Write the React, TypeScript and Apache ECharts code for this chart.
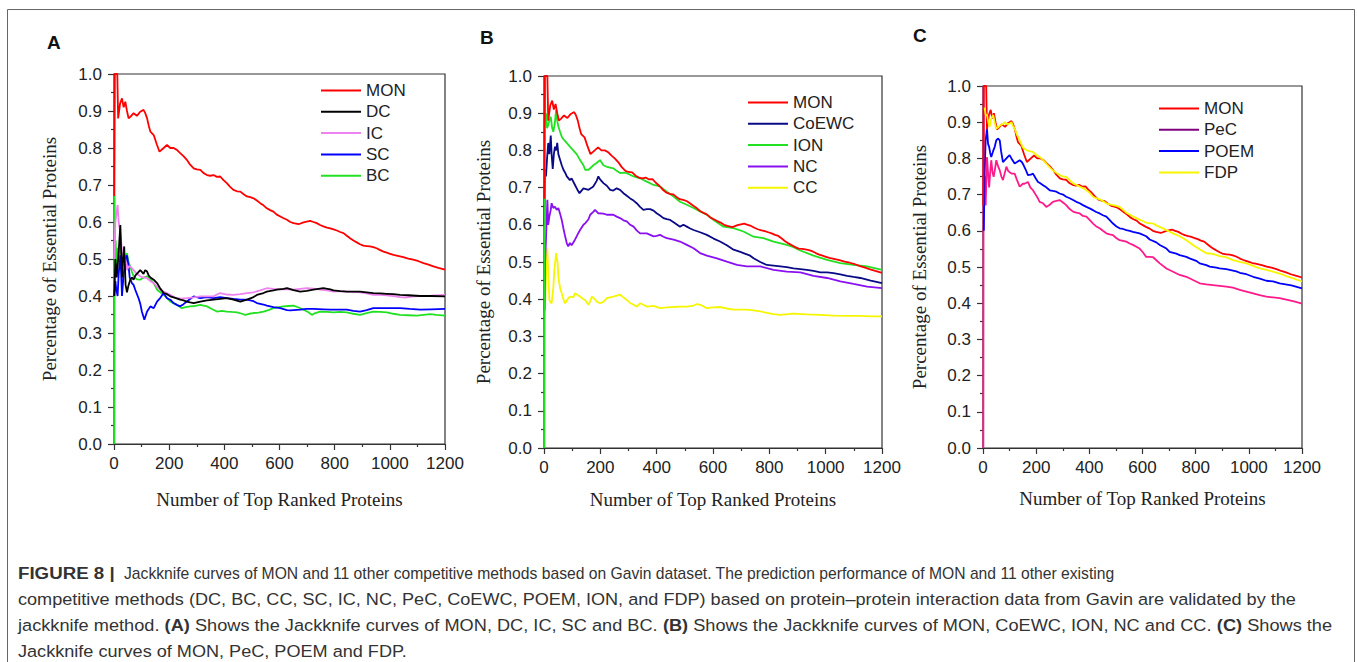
import React, { useEffect, useRef } from "react";
import * as echarts from "echarts";

type P = [number, number];

// ---------- Panel A / B / C shared: MON ----------
const MON: P[] = [[1,0.67],[3,1.0],[12,1.0],[15,0.88],[22,0.92],[29,0.934],[35,0.91],[41,0.925],[47,0.9],[53,0.88],[60,0.885],[71,0.894],[83,0.887],[95,0.898],[107,0.903],[113,0.895],[120,0.88],[126,0.86],[132,0.844],[144,0.835],[155,0.81],[165,0.79],[180,0.8],[192,0.808],[204,0.8],[216,0.8],[228,0.795],[240,0.786],[252,0.778],[264,0.768],[276,0.755],[289,0.745],[300,0.742],[313,0.741],[325,0.732],[337,0.727],[349,0.725],[361,0.727],[373,0.722],[385,0.723],[397,0.713],[409,0.705],[421,0.695],[433,0.687],[446,0.683],[458,0.682],[470,0.675],[482,0.669],[494,0.667],[506,0.664],[518,0.658],[530,0.651],[542,0.645],[554,0.637],[566,0.632],[578,0.628],[590,0.62],[603,0.615],[615,0.61],[627,0.606],[639,0.6],[651,0.597],[669,0.594],[687,0.599],[699,0.601],[711,0.603],[723,0.6],[735,0.597],[747,0.592],[759,0.588],[772,0.585],[784,0.583],[796,0.58],[808,0.577],[820,0.573],[832,0.57],[844,0.563],[856,0.556],[868,0.55],[880,0.545],[892,0.54],[904,0.536],[916,0.535],[928,0.534],[940,0.532],[952,0.529],[965,0.524],[977,0.52],[989,0.517],[1001,0.514],[1013,0.511],[1025,0.509],[1037,0.507],[1049,0.505],[1067,0.501],[1085,0.498],[1104,0.494],[1122,0.489],[1140,0.485],[1158,0.48],[1176,0.476],[1200,0.471]];

// ---------- Panel A ----------
const DC: P[] = [[1,0.4],[5,0.5],[10,0.45],[17,0.52],[23,0.592],[29,0.45],[33,0.5],[37,0.534],[42,0.43],[47,0.41],[53,0.43],[59,0.444],[65,0.45],[71,0.444],[77,0.455],[83,0.46],[95,0.47],[101,0.465],[107,0.46],[113,0.47],[120,0.466],[126,0.455],[132,0.45],[144,0.444],[156,0.435],[168,0.42],[180,0.408],[192,0.405],[204,0.399],[222,0.395],[240,0.39],[252,0.388],[264,0.385],[276,0.383],[289,0.381],[313,0.385],[337,0.388],[361,0.39],[385,0.392],[409,0.394],[433,0.39],[458,0.385],[482,0.39],[506,0.397],[518,0.403],[542,0.408],[554,0.412],[578,0.415],[590,0.417],[615,0.419],[627,0.421],[651,0.416],[675,0.412],[699,0.414],[723,0.417],[741,0.419],[759,0.421],[784,0.418],[796,0.415],[820,0.413],[844,0.412],[868,0.412],[892,0.412],[916,0.41],[940,0.408],[965,0.407],[989,0.406],[1013,0.405],[1037,0.403],[1067,0.402],[1110,0.4],[1150,0.4],[1200,0.399]];
const IC: P[] = [[1,0.5],[5,0.6],[13,0.646],[17,0.6],[23,0.57],[29,0.52],[35,0.48],[41,0.5],[47,0.47],[53,0.48],[59,0.48],[71,0.47],[83,0.46],[95,0.453],[107,0.45],[120,0.448],[132,0.44],[144,0.435],[156,0.425],[168,0.417],[180,0.412],[192,0.408],[204,0.403],[216,0.398],[228,0.394],[246,0.393],[264,0.394],[289,0.396],[313,0.399],[337,0.399],[361,0.399],[373,0.404],[385,0.408],[409,0.404],[433,0.403],[458,0.405],[482,0.408],[506,0.41],[530,0.415],[554,0.421],[578,0.419],[603,0.418],[627,0.418],[651,0.417],[675,0.419],[699,0.421],[723,0.42],[747,0.417],[772,0.415],[796,0.412],[820,0.413],[844,0.412],[868,0.411],[892,0.41],[916,0.407],[940,0.403],[965,0.403],[989,0.402],[1013,0.4],[1037,0.397],[1060,0.396],[1085,0.399],[1110,0.4],[1150,0.401],[1200,0.403]];
const SC: P[] = [[1,0.4],[3,0.4],[5,0.44],[8,0.42],[13,0.4],[17,0.46],[23,0.51],[26,0.46],[29,0.4],[35,0.46],[41,0.49],[47,0.51],[53,0.48],[57,0.45],[65,0.435],[71,0.43],[77,0.417],[89,0.394],[95,0.38],[101,0.358],[110,0.336],[120,0.358],[132,0.372],[144,0.367],[156,0.385],[168,0.395],[180,0.408],[192,0.394],[204,0.39],[216,0.381],[228,0.376],[240,0.372],[252,0.378],[264,0.385],[276,0.392],[289,0.399],[313,0.394],[337,0.397],[361,0.394],[385,0.397],[409,0.394],[433,0.392],[458,0.39],[482,0.39],[506,0.386],[518,0.381],[542,0.377],[554,0.374],[578,0.37],[603,0.367],[627,0.362],[639,0.361],[675,0.363],[699,0.365],[723,0.365],[759,0.364],[784,0.363],[820,0.363],[844,0.363],[868,0.36],[892,0.358],[916,0.362],[940,0.367],[989,0.367],[1037,0.367],[1073,0.365],[1110,0.363],[1150,0.364],[1200,0.365]];
const BC: P[] = [[1,0],[2,0.67],[4,0.45],[6,0.55],[9,0.48],[13,0.53],[17,0.5],[23,0.534],[29,0.5],[35,0.52],[41,0.5],[47,0.516],[53,0.49],[59,0.48],[65,0.465],[71,0.453],[83,0.445],[95,0.444],[107,0.45],[120,0.453],[132,0.445],[144,0.435],[156,0.417],[168,0.41],[180,0.403],[192,0.395],[204,0.385],[216,0.38],[228,0.376],[246,0.367],[260,0.37],[276,0.372],[295,0.373],[313,0.376],[337,0.372],[355,0.365],[373,0.358],[391,0.36],[409,0.358],[427,0.357],[446,0.356],[464,0.352],[476,0.349],[490,0.352],[506,0.354],[524,0.355],[542,0.358],[560,0.362],[578,0.367],[597,0.37],[615,0.372],[633,0.373],[651,0.374],[669,0.369],[687,0.363],[705,0.356],[717,0.349],[730,0.354],[747,0.358],[772,0.357],[796,0.356],[820,0.357],[844,0.356],[868,0.352],[892,0.349],[916,0.354],[940,0.358],[965,0.357],[989,0.356],[1013,0.352],[1037,0.349],[1067,0.348],[1098,0.347],[1122,0.349],[1146,0.351],[1170,0.349],[1200,0.347]];

// ---------- Panel B ----------
const COEWC: P[] = [[1,0.6],[4,0.75],[7,0.73],[11,0.78],[15,0.82],[19,0.79],[24,0.84],[27,0.79],[31,0.75],[35,0.79],[39,0.81],[43,0.8],[47,0.82],[51,0.79],[57,0.775],[63,0.76],[69,0.748],[75,0.74],[81,0.73],[92,0.72],[98,0.725],[110,0.707],[118,0.695],[126,0.685],[140,0.698],[158,0.694],[170,0.7],[175,0.703],[187,0.718],[193,0.73],[199,0.722],[211,0.712],[223,0.705],[235,0.694],[246,0.692],[258,0.698],[270,0.694],[282,0.685],[294,0.678],[306,0.671],[318,0.665],[329,0.658],[341,0.648],[353,0.64],[365,0.642],[377,0.642],[389,0.638],[400,0.631],[412,0.625],[424,0.618],[436,0.615],[448,0.613],[460,0.607],[483,0.595],[495,0.6],[507,0.595],[519,0.59],[531,0.586],[554,0.58],[578,0.573],[602,0.563],[625,0.555],[649,0.545],[673,0.533],[697,0.527],[708,0.524],[732,0.517],[744,0.51],[768,0.5],[791,0.492],[815,0.49],[839,0.488],[862,0.486],[886,0.483],[910,0.481],[933,0.479],[957,0.476],[981,0.472],[1005,0.472],[1028,0.47],[1052,0.467],[1076,0.463],[1099,0.46],[1123,0.457],[1160,0.45],[1200,0.443]];
const ION: P[] = [[1,0],[2,0.5],[3,1.0],[5,0.88],[7,0.9],[11,0.86],[15,0.868],[19,0.88],[24,0.89],[29,0.86],[33,0.85],[38,0.87],[43,0.909],[47,0.88],[51,0.864],[57,0.85],[63,0.837],[69,0.83],[75,0.825],[81,0.82],[92,0.81],[104,0.8],[116,0.79],[128,0.774],[140,0.76],[146,0.748],[158,0.748],[164,0.752],[175,0.76],[187,0.766],[199,0.774],[211,0.76],[223,0.756],[235,0.754],[246,0.752],[258,0.745],[270,0.739],[282,0.74],[294,0.739],[318,0.73],[341,0.725],[365,0.716],[389,0.707],[412,0.703],[436,0.689],[460,0.676],[483,0.662],[507,0.654],[531,0.645],[554,0.636],[578,0.627],[602,0.613],[637,0.595],[673,0.591],[708,0.582],[744,0.568],[779,0.564],[815,0.555],[862,0.546],[886,0.54],[910,0.531],[957,0.517],[1005,0.506],[1052,0.497],[1099,0.492],[1147,0.488],[1200,0.479]];
const NC: P[] = [[2,0.37],[4,0.5],[7,0.56],[12,0.667],[15,0.6],[19,0.622],[24,0.64],[27,0.658],[33,0.645],[39,0.649],[45,0.64],[51,0.645],[57,0.63],[63,0.613],[69,0.59],[75,0.569],[81,0.55],[86,0.542],[92,0.551],[98,0.545],[110,0.56],[120,0.575],[128,0.586],[140,0.6],[146,0.604],[158,0.615],[164,0.627],[175,0.635],[181,0.64],[193,0.631],[211,0.63],[223,0.627],[246,0.627],[258,0.622],[270,0.618],[282,0.612],[294,0.609],[306,0.6],[318,0.595],[329,0.585],[341,0.577],[365,0.577],[389,0.569],[400,0.57],[412,0.573],[424,0.568],[436,0.564],[460,0.56],[483,0.555],[507,0.546],[531,0.537],[554,0.524],[578,0.517],[614,0.51],[649,0.501],[685,0.492],[720,0.488],[768,0.488],[815,0.479],[862,0.474],[910,0.472],[957,0.463],[1005,0.457],[1052,0.448],[1099,0.441],[1147,0.434],[1200,0.43]];
const CC: P[] = [[3,0.35],[5,0.42],[9,0.5],[12,0.537],[16,0.45],[19,0.398],[23,0.392],[27,0.389],[33,0.43],[36,0.47],[43,0.524],[48,0.5],[51,0.461],[57,0.43],[63,0.416],[69,0.4],[75,0.389],[84,0.4],[92,0.407],[104,0.405],[110,0.416],[122,0.41],[128,0.407],[140,0.4],[146,0.398],[158,0.385],[164,0.395],[170,0.407],[181,0.4],[187,0.394],[199,0.389],[211,0.393],[223,0.403],[246,0.407],[270,0.412],[282,0.405],[294,0.398],[306,0.39],[318,0.385],[330,0.38],[341,0.389],[353,0.385],[365,0.38],[389,0.382],[412,0.376],[436,0.378],[460,0.379],[483,0.38],[507,0.38],[531,0.383],[543,0.387],[555,0.385],[578,0.376],[602,0.378],[626,0.379],[649,0.375],[673,0.372],[697,0.372],[720,0.372],[744,0.37],[768,0.367],[815,0.36],[839,0.358],[886,0.361],[934,0.359],[981,0.358],[1028,0.356],[1076,0.355],[1123,0.355],[1160,0.354],[1200,0.354]];

// ---------- Panel C ----------
const PEC: P[] = [[1,0],[2,1.0],[4,0.67],[6,0.685],[8,0.75],[10,0.67],[15,0.804],[19,0.76],[23,0.72],[28,0.77],[31,0.795],[36,0.76],[40,0.749],[45,0.77],[50,0.795],[56,0.78],[63,0.767],[69,0.75],[75,0.74],[82,0.76],[88,0.777],[95,0.765],[107,0.758],[119,0.758],[128,0.74],[138,0.722],[150,0.73],[156,0.73],[169,0.735],[178,0.72],[188,0.712],[198,0.7],[207,0.689],[213,0.68],[226,0.676],[238,0.666],[251,0.672],[263,0.68],[276,0.683],[288,0.685],[301,0.678],[313,0.671],[326,0.66],[339,0.653],[351,0.65],[364,0.648],[376,0.641],[389,0.639],[401,0.63],[414,0.62],[426,0.612],[439,0.607],[451,0.6],[464,0.593],[476,0.59],[489,0.588],[501,0.58],[514,0.574],[527,0.572],[539,0.57],[552,0.565],[564,0.561],[577,0.556],[589,0.551],[602,0.54],[614,0.528],[627,0.528],[640,0.527],[665,0.51],[690,0.496],[715,0.487],[740,0.478],[765,0.473],[790,0.464],[815,0.455],[840,0.452],[865,0.45],[890,0.448],[915,0.446],[940,0.443],[966,0.437],[991,0.432],[1016,0.427],[1041,0.422],[1066,0.418],[1091,0.416],[1116,0.414],[1141,0.41],[1170,0.405],[1200,0.399]];
const POEM: P[] = [[3,0.6],[6,0.76],[10,0.85],[15,0.882],[19,0.84],[23,0.832],[27,0.815],[31,0.804],[38,0.82],[44,0.832],[50,0.85],[56,0.855],[63,0.85],[68,0.82],[75,0.79],[82,0.795],[88,0.8],[94,0.805],[100,0.809],[107,0.8],[119,0.786],[128,0.79],[138,0.795],[146,0.79],[153,0.781],[160,0.77],[169,0.754],[180,0.755],[188,0.758],[198,0.745],[207,0.735],[214,0.732],[226,0.726],[238,0.72],[251,0.712],[263,0.71],[276,0.708],[288,0.703],[301,0.7],[313,0.694],[326,0.69],[339,0.685],[351,0.68],[364,0.676],[376,0.671],[389,0.666],[401,0.662],[414,0.657],[426,0.652],[439,0.648],[451,0.643],[464,0.639],[476,0.63],[489,0.62],[502,0.612],[514,0.607],[527,0.605],[539,0.602],[552,0.6],[564,0.597],[589,0.593],[614,0.585],[627,0.576],[652,0.568],[665,0.561],[690,0.551],[702,0.542],[727,0.537],[740,0.533],[765,0.528],[777,0.524],[802,0.517],[815,0.51],[840,0.505],[853,0.501],[878,0.498],[890,0.496],[915,0.494],[928,0.492],[953,0.488],[966,0.484],[991,0.48],[1016,0.473],[1041,0.468],[1066,0.462],[1091,0.46],[1116,0.455],[1160,0.449],[1200,0.441]];
const FDP: P[] = [[6,0.94],[10,0.92],[15,0.92],[20,0.9],[25,0.887],[31,0.91],[38,0.92],[44,0.9],[50,0.882],[56,0.885],[63,0.89],[75,0.895],[82,0.9],[88,0.895],[100,0.896],[107,0.9],[113,0.89],[119,0.882],[128,0.865],[138,0.85],[150,0.83],[163,0.823],[175,0.82],[188,0.818],[200,0.81],[213,0.804],[226,0.795],[238,0.786],[251,0.775],[263,0.767],[276,0.76],[288,0.754],[301,0.75],[313,0.749],[326,0.74],[339,0.731],[351,0.727],[364,0.722],[376,0.718],[389,0.712],[401,0.705],[414,0.694],[426,0.69],[439,0.687],[451,0.682],[464,0.676],[476,0.673],[489,0.671],[502,0.669],[514,0.666],[527,0.658],[539,0.65],[552,0.645],[564,0.639],[577,0.635],[589,0.631],[602,0.627],[614,0.622],[627,0.621],[640,0.62],[652,0.615],[665,0.611],[690,0.602],[715,0.593],[740,0.585],[765,0.574],[790,0.561],[815,0.549],[840,0.538],[865,0.536],[890,0.53],[915,0.527],[940,0.519],[966,0.514],[991,0.51],[1016,0.503],[1041,0.496],[1066,0.492],[1091,0.487],[1116,0.482],[1141,0.475],[1170,0.468],[1200,0.46]];

const X_TICKS = [0, 200, 400, 600, 800, 1000, 1200];
const PANEL_LABELS = ["A", "B", "C"];
const X_TITLE = "Number of Top Ranked Proteins";
const Y_TITLE = "Percentage of Essential Proteins";
const LEGEND_A = ["MON", "DC", "IC", "SC", "BC"];
const LEGEND_B = ["MON", "CoEWC", "ION", "NC", "CC"];
const LEGEND_C = ["MON", "PeC", "POEM", "FDP"];
const CAPTION_HEAD = "FIGURE 8 |";
const CAPTION_LINES = [
  "Jackknife curves of MON and 11 other competitive methods based on Gavin dataset. The prediction performance of MON and 11 other existing",
  "competitive methods (DC, BC, CC, SC, IC, NC, PeC, CoEWC, POEM, ION, and FDP) based on protein\u2013protein interaction data from Gavin are validated by the",
  "jackknife method. {b|(A)} Shows the Jackknife curves of MON, DC, IC, SC and BC. {b|(B)} Shows the Jackknife curves of MON, CoEWC, ION, NC and CC. {b|(C)} Shows the",
  "Jackknife curves of MON, PeC, POEM and FDP.",
];

const COLORS: Record<string, string> = {
  MON: "#ff0000",
  DC: "#000000",
  IC: "#ee82ee",
  SC: "#0000ff",
  BC: "#22e022",
  CoEWC: "#0a0a86",
  ION: "#22e022",
  NC: "#8a10f0",
  CC: "#f6f600",
  PeC: "#ff1a8c",
  POEM: "#0000ff",
  FDP: "#f6f600",
};

const SANS = "'Liberation Sans', Arial, sans-serif";
const SERIF = "'Liberation Serif', 'Times New Roman', serif";

const GRIDS = [
  { left: 114, top: 74, width: 331, height: 370 },
  { left: 544, top: 76, width: 338, height: 372 },
  { left: 983, top: 86, width: 319, height: 362 },
];
const NAME_GAPS = [
  { x: 46, y: 55 },
  { x: 42, y: 51 },
  { x: 41, y: 54 },
];

export default function App() {
  const ref = useRef<HTMLDivElement>(null);
  useEffect(() => {
    if (!ref.current) return;
    const chart = echarts.init(ref.current, undefined, { renderer: "svg" });

    const xAxes = GRIDS.map((_, i) => ({
      type: "value",
      gridIndex: i,
      min: 0,
      max: 1200,
      interval: 200,
      name: X_TITLE,
      nameLocation: "middle",
      nameGap: NAME_GAPS[i].x,
      nameTextStyle: { fontFamily: SERIF, fontSize: 19, color: "#222" },
      axisLine: { show: true, onZero: false, lineStyle: { color: "#333", width: 1.2 } },
      axisTick: { show: true, inside: false, length: 6, lineStyle: { color: "#333", width: 1.2 } },
      minorTick: { show: true, splitNumber: 2, length: 3, lineStyle: { color: "#333", width: 1.2 } },
      splitLine: { show: false },
      axisLabel: {
        fontFamily: SANS,
        fontSize: 17,
        color: "#222",
        margin: 11,
        formatter: (v: number) => (X_TICKS.includes(v) ? String(v) : ""),
      },
    }));
    const yAxes = GRIDS.map((_, i) => ({
      type: "value",
      gridIndex: i,
      min: 0,
      max: 1,
      interval: 0.1,
      name: Y_TITLE,
      nameLocation: "middle",
      nameGap: NAME_GAPS[i].y,
      nameTextStyle: { fontFamily: SERIF, fontSize: 19, color: "#222" },
      axisLine: { show: true, onZero: false, lineStyle: { color: "#333", width: 1.2 } },
      axisTick: { show: true, inside: false, length: 6, lineStyle: { color: "#333", width: 1.2 } },
      minorTick: { show: true, splitNumber: 2, length: 3, lineStyle: { color: "#333", width: 1.2 } },
      splitLine: { show: false },
      axisLabel: {
        fontFamily: SANS,
        fontSize: 17,
        color: "#222",
        margin: 12,
        formatter: (v: number) => v.toFixed(1),
      },
    }));

    const mk = (name: string, data: P[], idx: number, z = 2) => ({
      name,
      type: "line",
      xAxisIndex: idx,
      yAxisIndex: idx,
      data,
      symbol: "none",
      showSymbol: false,
      clip: true,
      z,
      lineStyle: { width: 1.8, color: COLORS[name] },
      itemStyle: { color: COLORS[name] },
    });

    const series = [
      mk("BC", BC, 0),
      mk("SC", SC, 0),
      mk("IC", IC, 0),
      mk("DC", DC, 0),
      mk("MON", MON, 0, 3),
      mk("CC", CC, 1),
      mk("NC", NC, 1),
      mk("CoEWC", COEWC, 1),
      mk("ION", ION, 1),
      mk("MON", MON, 1, 3),
      mk("PeC", PEC, 2),
      mk("POEM", POEM, 2),
      mk("MON", MON, 2, 3),
      mk("FDP", FDP, 2, 4),
    ];

    const legendBase = {
      orient: "vertical",
      itemWidth: 40,
      itemHeight: 16,
      itemGap: 4.3,
      padding: 0,
      selectedMode: false,
      itemStyle: { opacity: 0 },
      textStyle: { fontFamily: SANS, fontSize: 17, color: "#222" },
    };
    const legendData = (names: string[]) =>
      names.map((n) => ({
        name: n,
        itemStyle: { opacity: 0 },
        lineStyle: { color: n === "PeC" ? "#800080" : COLORS[n], width: 2 },
      }));

    const letterPos = [
      { x: 47, y: 42 },
      { x: 480, y: 37 },
      { x: 913, y: 35 },
    ];
    const captionY = [573, 599, 625, 651];
    const captionX = [124, 18, 18, 18];
    const captionScale = [0.922, 1.065, 1.07, 1.065];
    const textBase = {
      fontFamily: SANS,
      fontSize: 17,
      fill: "#333",
      verticalAlign: "middle",
      align: "left",
    };

    chart.setOption({
      animation: false,
      backgroundColor: "#ffffff",
      grid: GRIDS.map((g) => ({
        ...g,
        show: true,
        borderColor: "#333",
        borderWidth: 1.2,
        backgroundColor: "transparent",
        containLabel: false,
      })),
      xAxis: xAxes,
      yAxis: yAxes,
      legend: [
        { ...legendBase, left: 320, top: 82, data: legendData(LEGEND_A) },
        { ...legendBase, left: 747, top: 94, data: legendData(LEGEND_B) },
        { ...legendBase, left: 1158, top: 100, data: legendData(LEGEND_C) },
      ],
      series,
      graphic: [
        {
          type: "rect",
          shape: { x: 7.5, y: 9.5, width: 1347, height: 700 },
          style: { fill: "none", stroke: "#666", lineWidth: 1 },
          silent: true,
        },
        ...PANEL_LABELS.map((t, i) => ({
          type: "text",
          x: letterPos[i].x,
          y: letterPos[i].y,
          style: { ...textBase, text: t, fontWeight: "bold", fontSize: 19, fill: "#111" },
        })),
        {
          type: "text",
          x: 18,
          y: captionY[0],
          scaleX: 1.1,
          style: { ...textBase, text: CAPTION_HEAD, fontWeight: "bold" },
        },
        ...CAPTION_LINES.map((t, i) => ({
          type: "text",
          x: captionX[i],
          y: captionY[i],
          scaleX: captionScale[i],
          style: {
            ...textBase,
            text: t,
            rich: {
              b: { fontFamily: SANS, fontSize: 17, fontWeight: "bold", fill: "#333" },
            },
          },
        })),
      ],
    });

    return () => chart.dispose();
  }, []);

  return (
    <div
      ref={ref}
      style={{ position: "absolute", left: 0, top: 0, width: 1357, height: 662 }}
    />
  );
}
